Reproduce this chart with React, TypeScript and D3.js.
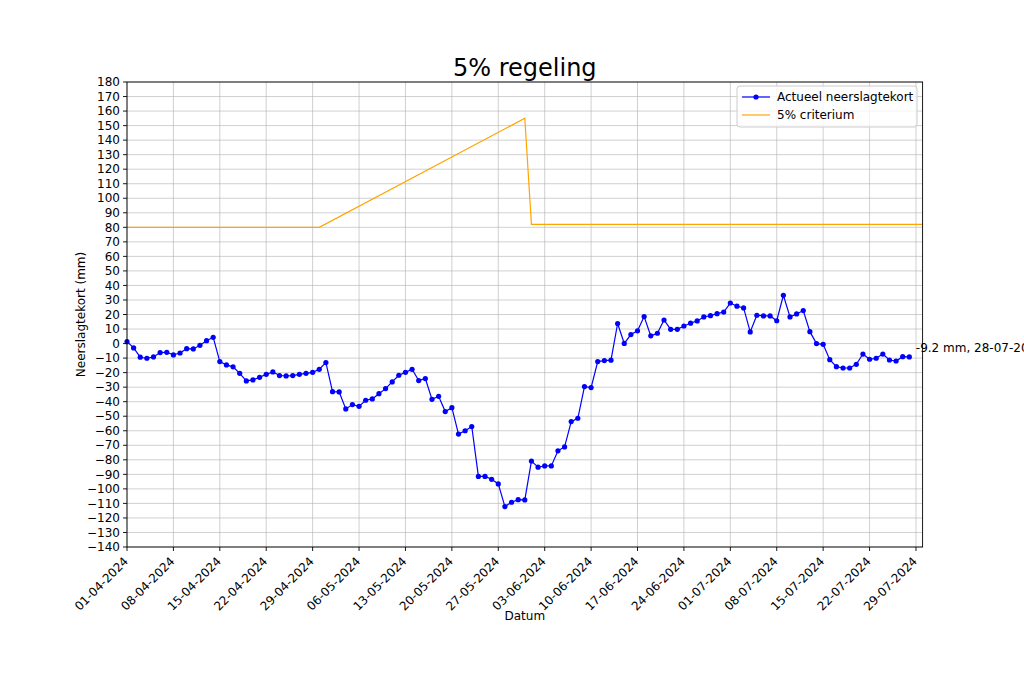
import React from "react";
import * as d3 from "d3";

// ---- data ----
const startDate = "2024-04-01";
const tekortValues: number[] = [
  1.3, -3, -9.4, -10.1, -9.2, -6.2, -6, -7.8, -6.5, -3.5,
  -3.7, -1.2, 2, 4.3, -12.4, -14.7, -16, -20.5, -25.7, -25,
  -23.2, -21.2, -19.5, -22, -22.3, -22, -21.2, -20.5, -19.8, -17.7,
  -13.1, -33.1, -33.3, -45, -42, -43.2, -39, -38.1, -34.5, -31,
  -26.4, -21.8, -19.8, -17.7, -25.5, -24.1, -38.4, -36.3, -46.8, -44.1,
  -62.3, -60, -57.1, -91.4, -91.4, -93.4, -96.6, -112.2, -109.2, -107.4,
  -107.6, -80.9, -85.1, -84.2, -84.2, -73.8, -71.1, -53.7, -51.4, -29.6,
  -30.3, -12.4, -11.7, -11.4, 13.8, 0.1, 6.2, 8.8, 18.6, 5.3,
  7.1, 16.2, 9.8, 9.8, 12.1, 14, 15.6, 18.3, 19.2, 20.6,
  21.7, 27.9, 25.7, 24.5, 8, 19.5, 19, 19, 15.7, 33.2,
  18.3, 20.4, 22.7, 8.2, 0, -0.5, -11.1, -15.9, -16.8, -16.8,
  -14.3, -7.2, -10.8, -10.1, -7.2, -11.3, -12, -9, -9.2,
];
const criteriumDates = ["2024-04-01", "2024-04-30", "2024-05-31", "2024-06-01", "2024-07-31"];
const criteriumValues = [80, 80, 155, 82, 82];
const xTickDates = [
  "2024-04-01", "2024-04-08", "2024-04-15", "2024-04-22", "2024-04-29",
  "2024-05-06", "2024-05-13", "2024-05-20", "2024-05-27", "2024-06-03",
  "2024-06-10", "2024-06-17", "2024-06-24", "2024-07-01", "2024-07-08",
  "2024-07-15", "2024-07-22", "2024-07-29",
];
const yTicks = d3.range(-140, 181, 10);
const xDomain = ["2024-04-01", "2024-07-30"];
const titleText = "5% regeling";
const xLabel = "Datum";
const yLabel = "Neerslagtekort (mm)";
const legendLabels = ["Actueel neerslagtekort", "5% criterium"];

const parse = (s: string) => new Date(s + "T00:00:00");
const fmt = d3.timeFormat("%d-%m-%Y");

export default function App() {
  const W = 1024, H = 682;
  const left = 127, right = 922.6, top = 82, bottom = 547;
  const font = "DejaVu Sans, sans-serif";
  const fs = 12;

  const x = d3.scaleTime().domain(xDomain.map(parse)).range([left, right]);
  const y = d3.scaleLinear().domain([-140, 180]).range([bottom, top]);

  const start = parse(startDate);
  const tekort = tekortValues.map((v, i) => ({ d: d3.timeDay.offset(start, i), v }));
  const crit = criteriumDates.map((s, i) => ({ d: parse(s), v: criteriumValues[i] }));

  const line = d3.line<{ d: Date; v: number }>().x((p) => x(p.d)).y((p) => y(p.v));
  const last = tekort[tekort.length - 1];
  const minus = (n: number) => (n < 0 ? "\u2212" + Math.abs(n) : String(n));

  return (
    <svg width={W} height={H} style={{ position: "absolute", left: 0, top: 0, background: "#fff" }} fontFamily={font}>
      <rect x={0} y={0} width={W} height={H} fill="#fff" />
      <defs>
        <clipPath id="plot">
          <rect x={left} y={top} width={right - left} height={bottom - top} />
        </clipPath>
      </defs>
      {/* grid */}
      {yTicks.map((t) => (
        <line key={"gy" + t} x1={left} x2={right} y1={y(t)} y2={y(t)} stroke="#b0b0b0" strokeOpacity={0.6} strokeWidth={1} />
      ))}
      {xTickDates.map((s) => (
        <line key={"gx" + s} x1={x(parse(s))} x2={x(parse(s))} y1={top} y2={bottom} stroke="#b0b0b0" strokeOpacity={0.6} strokeWidth={1} />
      ))}
      {/* series */}
      <g clipPath="url(#plot)">
        <path d={line(crit) || ""} fill="none" stroke="orange" strokeWidth={1.2} />
      </g>
      <path d={line(tekort) || ""} fill="none" stroke="blue" strokeWidth={1.2} />
      {tekort.map((p, i) => (
        <circle key={i} cx={x(p.d)} cy={y(p.v)} r={2.6} fill="blue" />
      ))}
      {/* spines */}
      <rect x={left} y={top} width={right - left} height={bottom - top} fill="none" stroke="#000" strokeWidth={0.9} />
      {/* y ticks */}
      {yTicks.map((t) => (
        <g key={"ty" + t}>
          <line x1={left - 4} x2={left} y1={y(t)} y2={y(t)} stroke="#000" strokeWidth={0.9} />
          <text x={left - 7} y={y(t)} dy="0.35em" textAnchor="end" fontSize={fs} fill="#000">
            {minus(t)}
          </text>
        </g>
      ))}
      {/* x ticks */}
      {xTickDates.map((s) => {
        const xp = x(parse(s));
        return (
          <g key={"tx" + s}>
            <line x1={xp} x2={xp} y1={bottom} y2={bottom + 4} stroke="#000" strokeWidth={0.9} />
            <text
              transform={`translate(${xp + 2},${bottom + 15}) rotate(-45)`}
              textAnchor="end"
              fontSize={fs}
              fill="#000"
            >
              {fmt(parse(s))}
            </text>
          </g>
        );
      })}
      {/* labels */}
      <text x={(left + right) / 2} y={76} textAnchor="middle" fontSize={24} fill="#000">
        {titleText}
      </text>
      <text x={(left + right) / 2} y={620} textAnchor="middle" fontSize={fs} fill="#000">
        {xLabel}
      </text>
      <text transform={`translate(85,${(top + bottom) / 2}) rotate(-90)`} textAnchor="middle" fontSize={fs} fill="#000">
        {yLabel}
      </text>
      {/* annotation */}
      <text x={x(last.d) + 6.5} y={y(last.v) - 5} fontSize={fs} fill="#000">
        {`${last.v} mm, ${fmt(last.d)}`}
      </text>
      {/* legend */}
      <g>
        <rect x={737} y={86} width={180} height={41} rx={3} fill="#fff" fillOpacity={0.8} stroke="#cccccc" strokeWidth={1} />
        <line x1={742} x2={770} y1={97} y2={97} stroke="blue" strokeWidth={1.2} />
        <circle cx={756} cy={97} r={2.6} fill="blue" />
        <text x={777} y={97} dy="0.35em" fontSize={fs} fill="#000">
          {legendLabels[0]}
        </text>
        <line x1={742} x2={770} y1={115} y2={115} stroke="orange" strokeWidth={1.2} />
        <text x={777} y={115} dy="0.35em" fontSize={fs} fill="#000">
          {legendLabels[1]}
        </text>
      </g>
    </svg>
  );
}
